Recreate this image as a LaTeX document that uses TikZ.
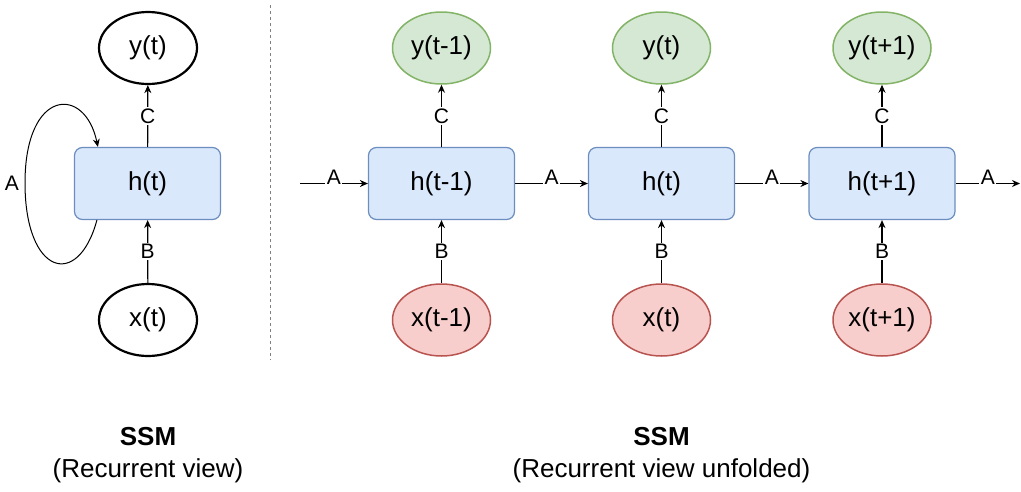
\documentclass[tikz,border=0pt]{standalone}
\usepackage{fontspec}
\setmainfont{Liberation Sans}
\usetikzlibrary{shapes.geometric,arrows.meta}
\definecolor{hfill}{HTML}{DAE8FC}
\definecolor{hline}{HTML}{6C8EBF}
\definecolor{yfill}{HTML}{D5E8D4}
\definecolor{yline}{HTML}{82B366}
\definecolor{xfill}{HTML}{F8CECC}
\definecolor{xline}{HTML}{B85450}
\tikzset{
	hbox/.style={rectangle, rounded corners=8pt, draw=hline, fill=hfill, line width=1.2pt,
		inner sep=0pt, minimum width=146pt, minimum height=72pt, font=\fontsize{26}{30}\selectfont},
	sig/.style={ellipse, inner sep=0pt, minimum width=98pt, minimum height=72pt,
		font=\fontsize{26}{30}\selectfont},
	plainsig/.style={sig, draw=black, line width=2.2pt},
	outsig/.style={sig, draw=yline, fill=yfill, line width=1.5pt},
	insig/.style={sig, draw=xline, fill=xfill, line width=1.5pt},
	conn/.style={-{Stealth[length=8pt,width=7pt]}, line width=1.2pt},
	lbl/.style={fill=white, inner sep=1.5pt, font=\fontsize{21}{23}\selectfont},
	hlbl/.style={lbl, yshift=6pt},
	title/.style={align=center, font=\fontsize{26}{32}\selectfont}
}
\begin{document}
\begin{tikzpicture}[x=1pt, y=-1pt]
	\useasboundingbox (0,0) rectangle (1021,491);
	
	% recurrent view
	\node[hbox] (h) at (147.5,183.5) {h(t)};
	\node[plainsig] (y) at (148,48) {y(t)};
	\node[plainsig] (x) at (148,320) {x(t)};
	\draw[conn] (x) -- node[lbl] {B} (h);
	\draw[conn] (h) -- node[lbl] {C} (y);
	\draw[conn, line width=1pt] ([xshift=23pt]h.south west) .. controls (78,290) and (25,275) .. (25,183)
		.. controls (25,88) and (85,85) .. ([xshift=24pt]h.north west);
	\node[font=\fontsize{21}{23}\selectfont] (aloop) at (12,183) {A};
	
	\draw[gray, line width=1pt, dash pattern=on 3pt off 3pt] (270,5) -- (270,360);
	
	% unfolded view
	\foreach \n/\xc/\s in {a/441.5/t-1, b/661.5/t, c/882/t+1}{
		\node[hbox] (h\n) at (\xc,183.5) {h(\s)};
		\node[outsig] (y\n) at (\xc,48) {y(\s)};
		\node[insig] (x\n) at (\xc,320) {x(\s)};
		\draw[conn] (x\n) -- node[lbl] {B} (h\n);
		\draw[conn] (h\n) -- node[lbl] {C} (y\n);
	}
	\coordinate (start) at (300,183.5);
	\coordinate (stop) at (1020,183.5);
	\draw[conn] (start) -- node[hlbl] {A} (ha);
	\draw[conn] (ha) -- node[hlbl] {A} (hb);
	\draw[conn] (hb) -- node[hlbl] {A} (hc);
	\draw[conn] (hc) -- node[hlbl] {A} (stop);
	
	% captions
	\node[title] (t1) at (148,455) {\textbf{SSM}\\(Recurrent view)};
	\node[title] (t2) at (661.5,455) {\textbf{SSM}\\(Recurrent view unfolded)};
\end{tikzpicture}
\end{document}
